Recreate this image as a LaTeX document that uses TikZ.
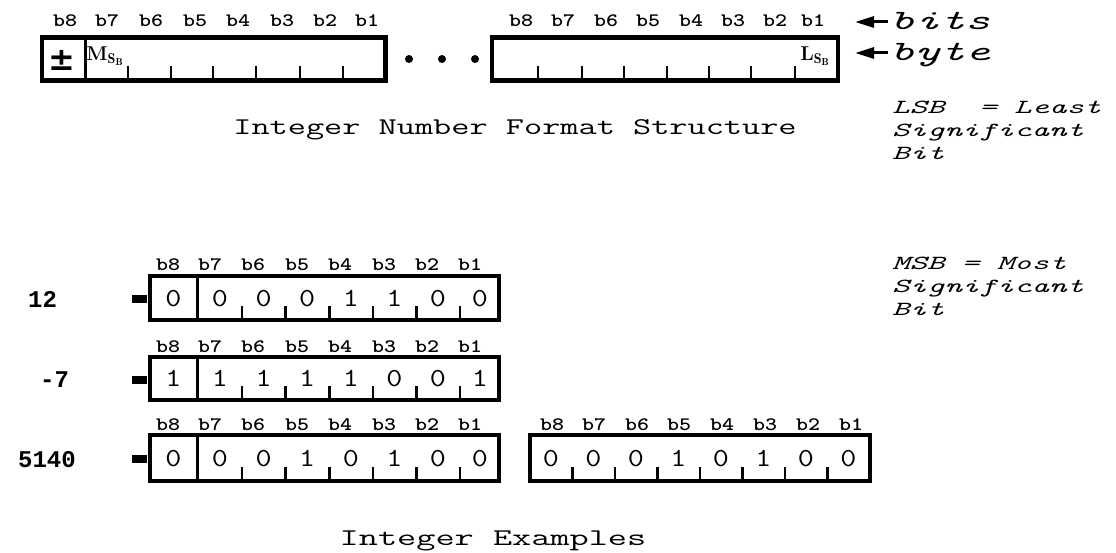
\documentclass[tikz,border=0pt]{standalone}
\usepackage{fontspec}
\usepackage{graphicx}
\usetikzlibrary{arrows.meta}
\newfontfamily\dejavu{DejaVu Sans}
\newfontfamily\cour{Liberation Mono}
\newcommand{\hs}[2]{\scalebox{#1}[1]{#2}}
\tikzset{
  frame/.style={line width=4.5pt},
  divider/.style={line width=3pt},
  tickmark/.style={line width=2.6pt},
  bitlbl/.style={font=\fontsize{19}{19}\selectfont\ttfamily\bfseries, inner sep=0pt, anchor=base},
  digit/.style={font=\fontsize{26}{26}\selectfont\ttfamily, inner sep=0pt, anchor=base},
  numlbl/.style={font=\fontsize{24}{24}\selectfont\cour\bfseries, inner sep=0pt, anchor=base west},
  title/.style={font=\fontsize{24}{24}\selectfont\ttfamily, inner sep=0pt, anchor=base},
  note/.style={font=\fontsize{20}{20}\selectfont\ttfamily\itshape, inner sep=0pt, anchor=base west},
  big/.style={font=\fontsize{28}{28}\selectfont\ttfamily\itshape, inner sep=0pt, anchor=base west},
  ptr/.style={line width=3pt, -{Triangle[length=19pt,width=11pt]}},
  eqbar/.style={fill=black, draw=none},
  sq/.style={font=\fontsize{20}{20}\selectfont\bfseries, inner sep=0pt},
}
\begin{document}
\begin{tikzpicture}[x=1pt,y=-1pt]
\useasboundingbox (0,0) rectangle (1116,553);

% ---------- structure: first byte ----------
\draw[frame] (42,37.5) rectangle (385.5,80.5);
\draw[divider] (85,37.5) -- (85,80.5);
\foreach \t in {128,171,213,256,300,343} \draw[tickmark] (\t,66) -- (\t,80.5);
\foreach \x/\l in {65/b8,107/b7,151/b6,195/b5,238/b4,282/b3,325/b2,367/b1}
  \node[bitlbl] (sa\l) at (\x,27) {\hs{1.2}{\l}};
\node[inner sep=0pt, font=\fontsize{32}{32}\selectfont\dejavu\bfseries] (pm) at (62,60) {±};
\node[sq] (msb) at (105,56) {M$_{\mathbf{S}_{\mathbf{B}}}$};

% dots
\foreach \x/\n in {409/1,442/2,475/3} \fill (\x,59) circle (4) coordinate (dot\n);

% ---------- structure: last byte ----------
\draw[frame] (492,37.5) rectangle (838,80.5);
\foreach \t in {538,582,624,667,709,751,795} \draw[tickmark] (\t,66) -- (\t,80.5);
\foreach \x/\l in {521/b8,563/b7,606/b6,648/b5,691/b4,733/b3,775/b2,813/b1}
  \node[bitlbl] (sb\l) at (\x,27) {\hs{1.2}{\l}};
\node[sq] (lsb) at (815,56) {L$_{\mathbf{S}_{\mathbf{B}}}$};

% pointers
\node[big] (bits) at (890,30) {\hs{1.7}{bits}};
\node[big] (byte) at (890,61) {\hs{1.7}{byte}};
\coordinate (bitstail) at (888,22);
\coordinate (bitstip) at (855,22);
\coordinate (bytetail) at (888,53);
\coordinate (bytetip) at (855,53);
\draw[ptr] (bitstail) -- (bitstip);
\draw[ptr] (bytetail) -- (bytetip);

\node[title] (t1) at (515,135) {\hs{1.47}{Integer Number Format Structure}};

% notes
\node[note] (n1) at (892,114) {\hs{1.66}{LSB\ \ = Least}};
\node[note] (n2) at (892,137) {\hs{1.66}{Significant}};
\node[note] (n3) at (892,160) {\hs{1.66}{Bit}};
\node[note] (n4) at (892,270) {\hs{1.66}{MSB = Most}};
\node[note] (n5) at (892,293) {\hs{1.66}{Significant}};
\node[note] (n6) at (892,316) {\hs{1.66}{Bit}};

% ---------- examples ----------
\foreach \row/\top/\bot/\name/\bits in {
   a/276/320/12/{0,0,0,0,1,1,0,0},
   b/357/400/-7/{1,1,1,1,1,0,0,1},
   c/435/481/5140/{0,0,0,1,0,1,0,0}} {
  \draw[frame] (150,\top) rectangle (499,\bot);
  \draw[divider] (197,\top) -- (197,\bot);
  \foreach \t in {242,285.6,329.2,372.8,416.4,460} \draw[tickmark] (\t,\bot-14) -- (\t,\bot);
  \foreach \x/\l in {168/b8,210/b7,253/b6,297/b5,340/b4,384/b3,427/b2,470/b1}
    \node[bitlbl] at (\x,\top-5) {\hs{1.2}{\l}};
  \foreach \d [count=\i] in \bits {
    \pgfmathsetmacro{\cx}{\i==1 ? 173.5 : (\i==8 ? 480 : 220+43.6*(\i-2))}
    \node[digit] at (\cx,{(\top+\bot)/2+8}) {\hs{1.2}{\d}};
  }
  \fill[eqbar] (132,{(\top+\bot)/2-3}) rectangle (147,{(\top+\bot)/2+5});
}
\node[numlbl] (v12) at (28,307) {12};
\node[numlbl] (v7) at (40,387) {-7};
\node[numlbl] (v5140) at (18,467) {5140};

% second byte of 5140
\draw[frame] (530,435) rectangle (870,481);
\foreach \t in {572.5,615,657.5,700,742.5,785,827.5} \draw[tickmark] (\t,467) -- (\t,481);
\foreach \x/\l in {552/b8,594/b7,637/b6,679/b5,722/b4,765/b3,808/b2,851/b1}
  \node[bitlbl] at (\x,430) {\hs{1.2}{\l}};
\foreach \d [count=\i] in {0,0,0,1,0,1,0,0}
  \node[digit] at ({551+42.5*(\i-1)},466) {\hs{1.2}{\d}};

\node[title] (t2) at (493,545) {\hs{1.55}{Integer Examples}};
\end{tikzpicture}
\end{document}
